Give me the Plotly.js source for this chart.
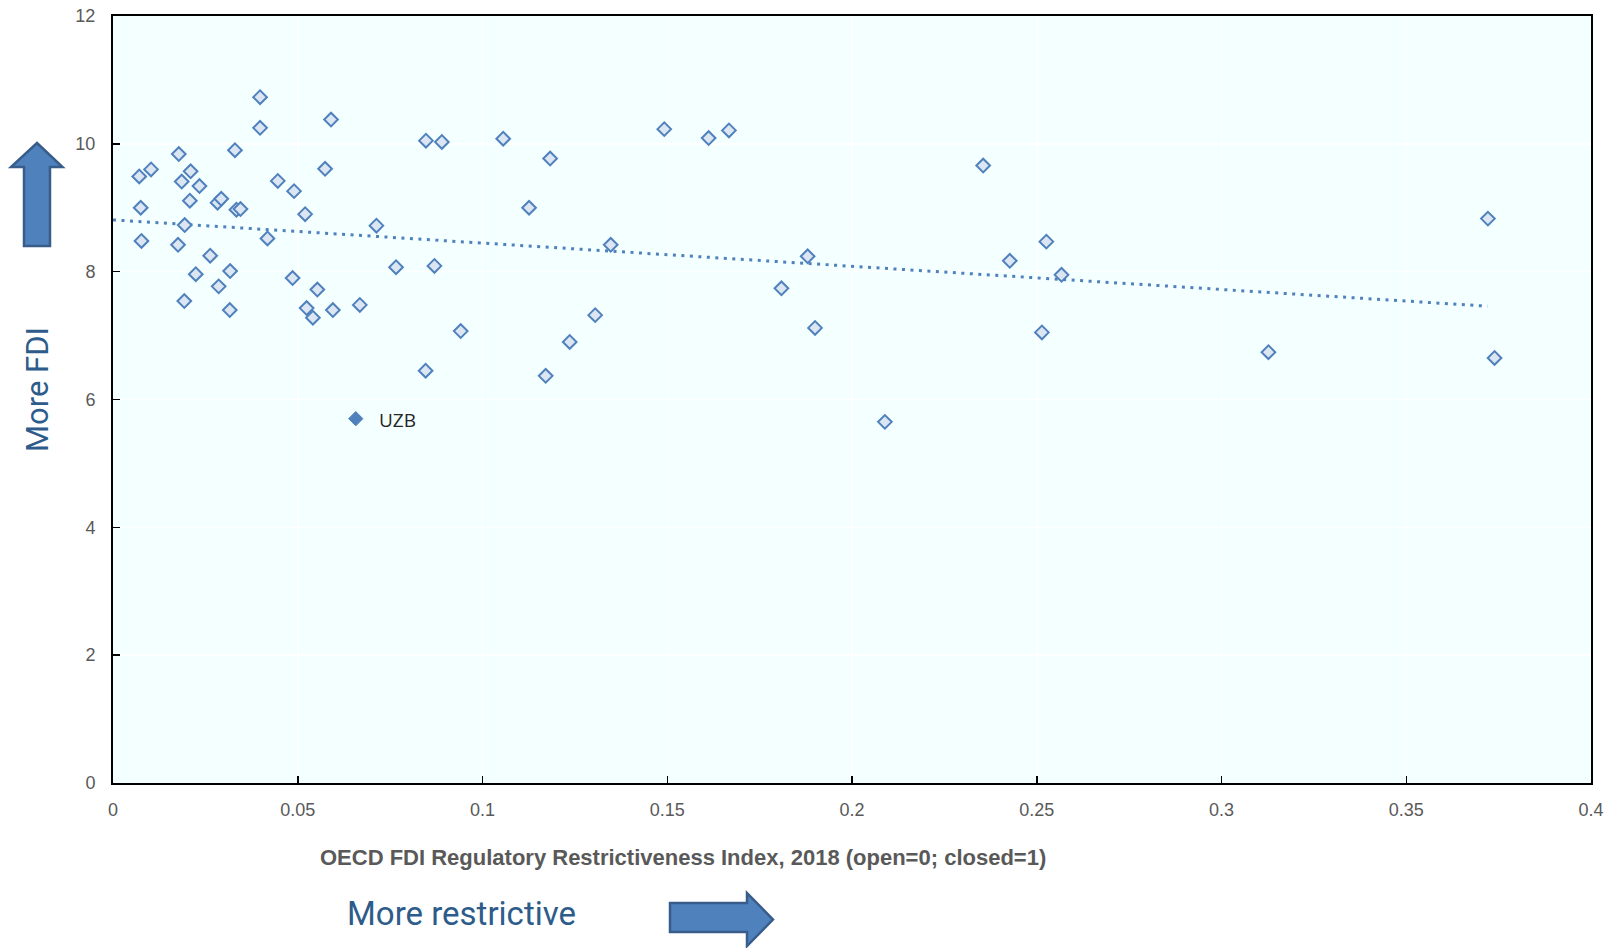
<!DOCTYPE html>
<html>
<head>
<meta charset="utf-8">
<script src="https://cdn.plot.ly/plotly-3.0.1.min.js"></script>
<style>html,body{margin:0;padding:0;background:#fff;}#chart{width:1612px;height:948px;}</style>
</head>
<body>
<div id="chart"></div>
<script>
// ---- data ----
var fdiIndex = [0.0398,0.0398,0.0590,0.0330,0.0178,0.0071,0.0103,0.0210,0.0186,0.0234,0.0574,0.0446,0.0490,0.0075,0.0208,0.0283,0.0293,0.0334,0.0345,0.0520,0.0713,0.0194,0.0077,0.0176,0.0418,0.0263,0.0224,0.0317,0.0486,0.0286,0.0553,0.0193,0.0316,0.0524,0.0541,0.0595,0.0668,
  0.0847,0.0890,0.1056,0.1183,0.1126,0.1347,0.0766,0.0870,0.0941,0.1305,0.1236,0.0846,0.1171,
  0.1492,0.1612,0.1667,0.1880,0.1809,0.1900,
  0.2355,0.2526,0.2427,0.2567,0.2514,0.2089,
  0.3127,0.3721,0.3739];
var fdiValue = [10.73,10.25,10.38,9.90,9.84,9.49,9.60,9.57,9.41,9.34,9.61,9.42,9.26,9.00,9.11,9.08,9.14,8.97,8.98,8.90,8.72,8.73,8.48,8.42,8.52,8.25,7.96,8.01,7.90,7.77,7.72,7.54,7.40,7.43,7.28,7.40,7.48,
  10.05,10.03,10.08,9.77,9.00,8.42,8.07,8.09,7.07,7.32,6.90,6.45,6.37,
  10.23,10.09,10.21,8.24,7.74,7.12,
  9.66,8.47,8.17,7.95,7.05,5.65,
  6.74,8.83,6.65];
var uzbLabel = ["UZB"];
var uzbIndex = [0.0657];
var uzbValue = [5.70];
var trendX = [0, 0.372];
var trendY = [8.81, 7.46];
var xTickVals = [0,0.05,0.1,0.15,0.2,0.25,0.3,0.35,0.4];
var xTickText = ["0","0.05","0.1","0.15","0.2","0.25","0.3","0.35","0.4"];
var yTickVals = [0,2,4,6,8,10,12];
var yTickText = ["0","2","4","6","8","10","12"];
var xTitle = "OECD FDI Regulatory Restrictiveness Index, 2018 (open=0; closed=1)";
var yNote = "More FDI";
var xNote = "More restrictive";

// ---- layout helpers ----
var W = 1612, H = 948, ML = 113, MR = 21, MT = 16, MB = 165;
var PW = W - ML - MR, PH = H - MT - MB;
function px(x){ return (x - ML) / PW; }
function py(y){ return (H - MB - y) / PH; }
function pathFromPx(pts){
  return pts.map(function(p,i){ return (i===0?'M ':'L ') + px(p[0]).toFixed(5) + ',' + py(p[1]).toFixed(5); }).join(' ') + ' Z';
}
var narrow = '"Liberation Sans Narrow", "Arial Narrow", "Liberation Sans", Arial, sans-serif';
var blue = '#4F81BD';

var traces = [
  {
    x: trendX, y: trendY, type: 'scatter', mode: 'lines',
    line: {color: blue, width: 3, dash: '3px,5.5px'},
    hoverinfo: 'skip', showlegend: false
  },
  {
    x: fdiIndex, y: fdiValue, type: 'scatter', mode: 'markers',
    marker: {symbol: 'diamond', size: 10.5, color: '#DCE6F2', line: {color: blue, width: 2}},
    showlegend: false
  },
  {
    x: uzbIndex, y: uzbValue, type: 'scatter', mode: 'markers',
    marker: {symbol: 'diamond', size: 11, color: blue, line: {color: blue, width: 1}},
    showlegend: false
  }
];

var layout = {
  width: W, height: H, autosize: false,
  margin: {l: ML, r: MR, t: MT, b: MB, pad: 0},
  paper_bgcolor: '#ffffff', plot_bgcolor: '#F4FFFF',
  showlegend: false,
  xaxis: {
    range: [0, 0.4], tickvals: xTickVals, ticktext: xTickText,
    ticks: 'inside', ticklen: 7, tickwidth: 1.5, tickcolor: '#000',
    showline: true, linecolor: '#000', linewidth: 2, mirror: true,
    showgrid: true, gridcolor: '#ffffff', gridwidth: 1.5, zeroline: false,
    tickfont: {family: narrow, size: 18, color: '#595959'},
    ticklabelstandoff: 9, fixedrange: true
  },
  yaxis: {
    range: [0, 12], tickvals: yTickVals, ticktext: yTickText,
    ticks: 'inside', ticklen: 7, tickwidth: 1.5, tickcolor: '#000',
    showline: true, linecolor: '#000', linewidth: 2, mirror: true,
    showgrid: true, gridcolor: '#ffffff', gridwidth: 1.5, zeroline: false,
    tickfont: {family: narrow, size: 18, color: '#595959'},
    ticklabelstandoff: 12, fixedrange: true
  },
  shapes: [
    {type: 'path', xref: 'paper', yref: 'paper', layer: 'above',
     path: pathFromPx([[37,143],[62.5,167],[50,167],[50,246],[24,246],[24,167],[11,167]]),
     fillcolor: blue, line: {color: '#385D8A', width: 2.5}},
    {type: 'path', xref: 'paper', yref: 'paper', layer: 'above',
     path: pathFromPx([[670,903],[747,903],[747,893],[773,919.5],[747,946],[747,932],[670,932]]),
     fillcolor: blue, line: {color: '#385D8A', width: 2.5}}
  ],
  annotations: [
    {text: '<b>' + xTitle + '</b>', xref: 'paper', yref: 'paper', x: px(683), y: py(857),
     xanchor: 'center', yanchor: 'middle', showarrow: false,
     font: {family: narrow, size: 22, color: '#595959'}},
    {text: xNote, xref: 'paper', yref: 'paper', x: px(461), y: py(913),
     xanchor: 'center', yanchor: 'middle', showarrow: false,
     font: {family: 'Roboto, sans-serif', size: 33, color: '#2E5C8A'}},
    {text: yNote, xref: 'paper', yref: 'paper', x: px(37.5), y: py(389.5), textangle: -90,
     xanchor: 'center', yanchor: 'middle', showarrow: false,
     font: {family: 'Roboto, sans-serif', size: 31, color: '#2E5C8A'}},
    {text: uzbLabel[0], xref: 'x', yref: 'y', x: uzbIndex[0], y: uzbValue[0],
     xanchor: 'left', yanchor: 'middle', xshift: 21, yshift: -1, showarrow: false,
     font: {family: '"Open Sans", sans-serif', size: 19, color: '#262626'}}
  ]
};

Plotly.newPlot('chart', traces, layout, {displayModeBar: false, staticPlot: true});
</script>
</body>
</html>
